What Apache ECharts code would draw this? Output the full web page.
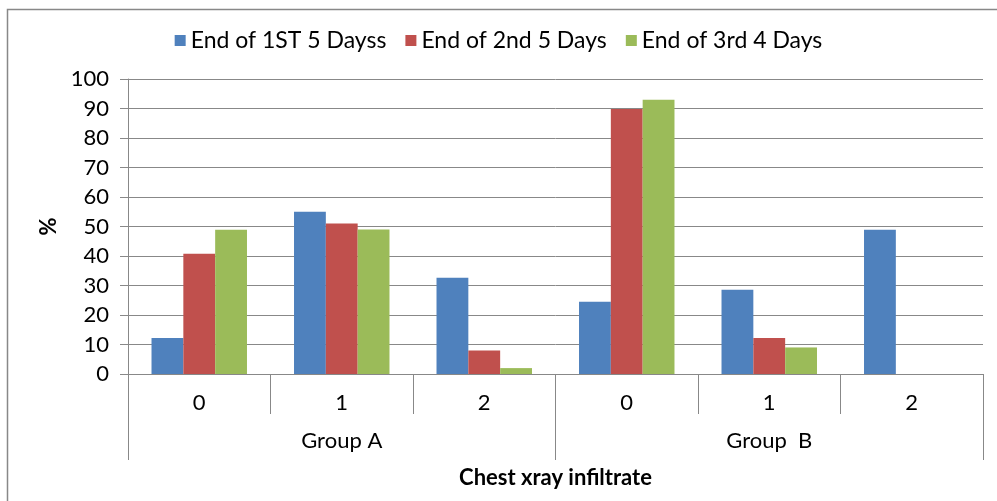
<!DOCTYPE html>
<html>
<head>
<meta charset="utf-8">
<script src="https://cdn.jsdelivr.net/npm/echarts@6/dist/echarts.min.js"></script>
<style>
  html, body { margin: 0; padding: 0; background: #fff; }
  #chart { width: 997px; height: 501px; }
</style>
</head>
<body>
<div id="chart"></div>
<script>
// 数据
const categories = ['0', '1', '2', '0', '1', '2'];
const groups = ['Group A', 'Group  B'];
const seriesNames = ['End of 1ST 5 Dayss', 'End of 2nd 5 Days', 'End of 3rd 4 Days'];
const firstFive = [12.2, 55, 32.6, 24.5, 28.6, 48.9];
const secondFive = [40.8, 51, 8, 89.8, 12.2, 0];
const thirdFour = [48.9, 49, 2, 93, 9, 0];
const colors = ['#4F81BD', '#C0504D', '#9BBB59'];

const font = 'Lato, "Open Sans", sans-serif';
const myChart = echarts.init(document.getElementById('chart'), null, { renderer: 'canvas' });

const option = {
  animation: false,
  color: colors,
  textStyle: { fontFamily: font },
  legend: {
    top: 24,
    left: 'center',
    itemWidth: 11,
    itemHeight: 11,
    itemGap: 19,
    icon: 'rect',
    textStyle: { fontSize: 23, color: '#000', fontFamily: font },
    data: seriesNames
  },
  grid: { left: 128, right: 14, top: 79, bottom: 127 },
  graphic: [{
    type: 'rect',
    shape: { x: 7.5, y: 9.5, width: 1000, height: 500 },
    style: { fill: 'none', stroke: '#888', lineWidth: 1.5 },
    silent: true
  }],
  xAxis: [{
    type: 'category',
    data: categories,
    axisLine: { show: true, lineStyle: { color: '#888', width: 1 } },
    axisTick: { show: true, interval: 0, length: 40, lineStyle: { color: '#888' } },
    axisLabel: { margin: 18, fontSize: 22, color: '#000', fontFamily: font }
  }, {
    type: 'category',
    data: groups,
    position: 'bottom',
    offset: 0,
    axisLine: { show: false },
    axisTick: { show: true, interval: 0, length: 86, lineStyle: { color: '#888' } },
    axisLabel: { margin: 56, fontSize: 22, color: '#000', fontFamily: font },
    name: 'Chest xray infiltrate',
    nameLocation: 'middle',
    nameGap: 93,
    nameTextStyle: { fontSize: 22, fontWeight: 'bold', color: '#000', fontFamily: font }
  }],
  yAxis: {
    type: 'value',
    min: 0,
    max: 100,
    interval: 10,
    name: '%',
    nameLocation: 'middle',
    nameGap: 68,
    nameRotate: 90,
    nameTextStyle: { fontSize: 22, fontWeight: 'bold', color: '#000', fontFamily: font },
    axisLine: { show: true, lineStyle: { color: '#888' } },
    axisTick: { show: true, length: 8, lineStyle: { color: '#888' } },
    axisLabel: { margin: 19, fontSize: 22, color: '#000', fontFamily: font },
    splitLine: { lineStyle: { color: '#888', width: 1 } }
  },
  series: [
    { name: seriesNames[0], type: 'bar', data: firstFive, barGap: '0%', barCategoryGap: '33%' },
    { name: seriesNames[1], type: 'bar', data: secondFive, barGap: '0%', barCategoryGap: '33%' },
    { name: seriesNames[2], type: 'bar', data: thirdFour, barGap: '0%', barCategoryGap: '33%' }
  ]
};

myChart.setOption(option);
</script>
</body>
</html>
